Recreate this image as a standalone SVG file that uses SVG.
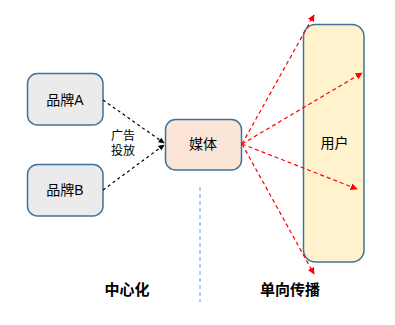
<svg xmlns="http://www.w3.org/2000/svg" width="395" height="325" viewBox="0 0 395 325">
<defs>
<style>
.box{stroke:#41719C;stroke-width:1.5}
.brand{fill:#EBEBEB}
.media{fill:#FBE5D6}
.user{fill:#FFF2CC}
.t{font-family:"Liberation Sans","Noto Sans CJK SC",sans-serif;font-size:14px;fill:#000;text-anchor:middle;dominant-baseline:central}
.s{font-size:12px}
.b{font-size:15px;font-weight:bold}
.blk{stroke:#000;stroke-width:1.2;stroke-dasharray:3,3;fill:none}
.red{stroke:#FF0000;stroke-width:1.2;stroke-dasharray:4,3;fill:none}
</style>
<marker id="ab" viewBox="0 0 10 10" refX="9" refY="5" markerWidth="6" markerHeight="6" orient="auto" markerUnits="userSpaceOnUse"><path d="M0,0 L10,5 L0,10 z" fill="#000"/></marker>
<marker id="ar" viewBox="0 0 10 10" refX="9" refY="5" markerWidth="7" markerHeight="7" orient="auto" markerUnits="userSpaceOnUse"><path d="M0,0 L10,5 L0,10 z" fill="#FF0000"/></marker>
</defs>
<g id="brandA">
<rect class="box brand" x="27.5" y="73.5" width="75.5" height="51.5" rx="10"/>
<text class="t" x="65" y="100">品牌A</text>
</g>
<g id="brandB">
<rect class="box brand" x="27.5" y="164.5" width="75.5" height="51.5" rx="10"/>
<text class="t" x="65" y="190">品牌B</text>
</g>
<g id="adLabel">
<text class="t s" x="123" y="136">广告</text>
<text class="t s" x="123" y="151">投放</text>
</g>
<g id="media">
<rect class="box media" x="165.5" y="119.5" width="76" height="50.5" rx="10"/>
<text class="t" x="203" y="144">媒体</text>
</g>
<g id="user">
<rect class="box user" x="303.5" y="24.5" width="60.5" height="237.5" rx="12"/>
<text class="t" x="334.5" y="143">用户</text>
</g>
<g id="labels">
<text class="t b" x="127" y="289">中心化</text>
<text class="t b" x="290" y="289">单向传播</text>
</g>
<g id="connectors">
<line class="blk" x1="103" y1="100" x2="164" y2="143" marker-end="url(#ab)"/>
<line class="blk" x1="103" y1="190" x2="164" y2="145" marker-end="url(#ab)"/>
<line class="red" x1="242" y1="144" x2="314" y2="15" marker-end="url(#ar)"/>
<line class="red" x1="242" y1="144" x2="362" y2="73" marker-end="url(#ar)"/>
<line class="red" x1="242" y1="144" x2="357" y2="189" marker-end="url(#ar)"/>
<line class="red" x1="242" y1="144" x2="314" y2="274" marker-end="url(#ar)"/>
<line x1="200" y1="187" x2="200" y2="302" stroke="#5B9BD5" stroke-width="1" stroke-dasharray="4,3"/>
</g>
</svg>
